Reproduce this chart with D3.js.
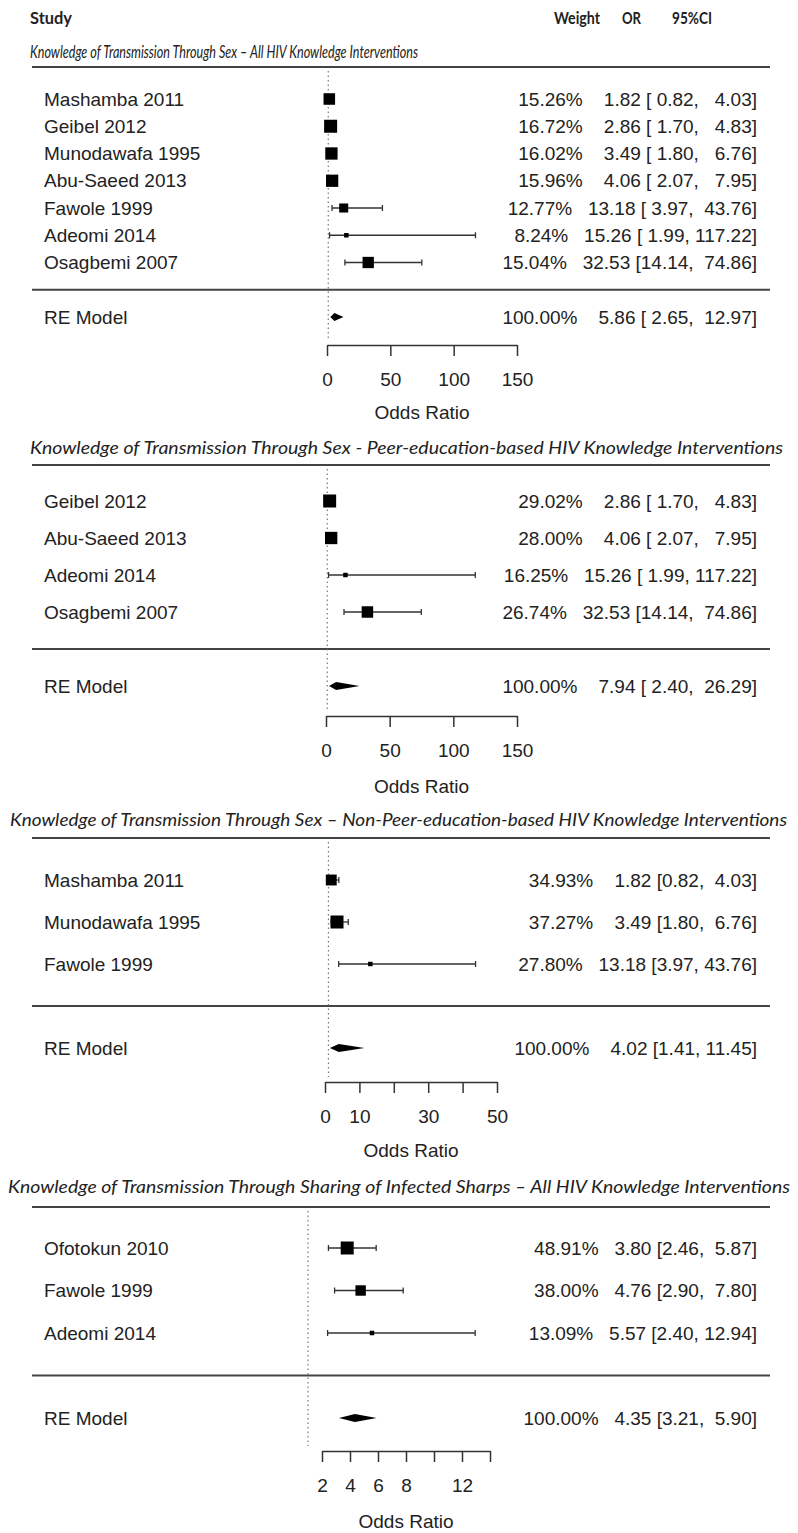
<!DOCTYPE html>
<html>
<head>
<meta charset="utf-8">
<script src="https://cdn.jsdelivr.net/npm/d3@7"></script>
<style>
  body { margin: 0; background: #fff; }
  svg text { font-family: "Liberation Sans", Arial, sans-serif; fill: #222; }
</style>
</head>
<body>
<div id="chart"></div>
<script>
// ---- data ----
var titles = [
  "Knowledge of Transmission Through Sex \u2013 All HIV Knowledge Interventions",
  "Knowledge of Transmission Through Sex - Peer-education-based HIV Knowledge Interventions",
  "Knowledge of Transmission Through Sex \u2013 Non-Peer-education-based HIV Knowledge Interventions",
  "Knowledge of Transmission Through Sharing of Infected Sharps \u2013 All HIV Knowledge Interventions"
];

var sexAllStudies = ["Mashamba 2011", "Geibel 2012", "Munodawafa 1995", "Abu-Saeed 2013", "Fawole 1999", "Adeomi 2014", "Osagbemi 2007"];
var sexAllWeight  = [15.26, 16.72, 16.02, 15.96, 12.77, 8.24, 15.04];
var sexAllOR      = [1.82, 2.86, 3.49, 4.06, 13.18, 15.26, 32.53];
var sexAllLower   = [0.82, 1.70, 1.80, 2.07, 3.97, 1.99, 14.14];
var sexAllUpper   = [4.03, 4.83, 6.76, 7.95, 43.76, 117.22, 74.86];
var sexAllRE      = [5.86, 2.65, 12.97];

var peerStudies = ["Geibel 2012", "Abu-Saeed 2013", "Adeomi 2014", "Osagbemi 2007"];
var peerWeight  = [29.02, 28.00, 16.25, 26.74];
var peerOR      = [2.86, 4.06, 15.26, 32.53];
var peerLower   = [1.70, 2.07, 1.99, 14.14];
var peerUpper   = [4.83, 7.95, 117.22, 74.86];
var peerRE      = [7.94, 2.40, 26.29];

var nonPeerStudies = ["Mashamba 2011", "Munodawafa 1995", "Fawole 1999"];
var nonPeerWeight  = [34.93, 37.27, 27.80];
var nonPeerOR      = [1.82, 3.49, 13.18];
var nonPeerLower   = [0.82, 1.80, 3.97];
var nonPeerUpper   = [4.03, 6.76, 43.76];
var nonPeerRE      = [4.02, 1.41, 11.45];

var sharpsStudies = ["Ofotokun 2010", "Fawole 1999", "Adeomi 2014"];
var sharpsWeight  = [48.91, 38.00, 13.09];
var sharpsOR      = [3.80, 4.76, 5.57];
var sharpsLower   = [2.46, 2.90, 2.40];
var sharpsUpper   = [5.87, 7.80, 12.94];
var sharpsRE      = [4.35, 3.21, 5.90];

var sexAllTicks = [0, 50, 100, 150],  sexAllTickLabels = [0, 50, 100, 150];
var peerTicks = [0, 50, 100, 150],    peerTickLabels = [0, 50, 100, 150];
var nonPeerTicks = [0, 10, 20, 30, 40, 50], nonPeerTickLabels = [0, 10, 30, 50];
var sharpsTicks = [2, 4, 6, 8, 10, 12, 14], sharpsTickLabels = [2, 4, 6, 8, 12];

// ---- layout (pixels) ----
var width = 798, height = 1533;
var lineLeft = 32, lineRight = 770, studyX = 44, annotX = 757;

var panels = [
  { studies: sexAllStudies, w: sexAllWeight, or: sexAllOR, lb: sexAllLower, ub: sexAllUpper, re: sexAllRE,
    ticks: sexAllTicks, labels: sexAllTickLabels, domain: [0, 150], range: [327, 517],
    titleY: 52, titleX: 30, titleLen: 388, lineY: 67, firstY: 99, reY: 317, axisY: 345, xlabY: 412 },
  { studies: peerStudies, w: peerWeight, or: peerOR, lb: peerLower, ub: peerUpper, re: peerRE,
    ticks: peerTicks, labels: peerTickLabels, domain: [0, 150], range: [326, 517],
    titleY: 448, titleX: 30, titleLen: 753, lineY: 465, firstY: 501, reY: 686, axisY: 716, xlabY: 786 },
  { studies: nonPeerStudies, w: nonPeerWeight, or: nonPeerOR, lb: nonPeerLower, ub: nonPeerUpper, re: nonPeerRE,
    ticks: nonPeerTicks, labels: nonPeerTickLabels, domain: [0, 50], range: [325, 497],
    titleY: 820, titleX: 10, titleLen: 777, lineY: 838, firstY: 880, reY: 1048, axisY: 1082, xlabY: 1150 },
  { studies: sharpsStudies, w: sharpsWeight, or: sharpsOR, lb: sharpsLower, ub: sharpsUpper, re: sharpsRE,
    ticks: sharpsTicks, labels: sharpsTickLabels, domain: [2, 14], range: [322, 490],
    titleY: 1187, titleX: 8, titleLen: 782, lineY: 1207, firstY: 1248, reY: 1418, axisY: 1451, xlabY: 1521 }
];

var svg = d3.select("#chart").append("svg")
  .attr("width", width)
  .attr("height", height);

// column headers
var header = svg.append("g")
  .style("font-weight", "bold");
[["Study", 30, 42], ["Weight", 554, 46], ["OR", 622, 19], ["95%CI", 672, 40]].forEach(function(h) {
  header.append("text")
    .attr("x", h[1]).attr("y", 18).attr("dy", "0.35em")
    .attr("textLength", h[2])
    .attr("lengthAdjust", "spacingAndGlyphs")
    .style("font-family", "Lato, 'Open Sans', sans-serif")
    .style("font-size", "17px")
    .text(h[0]);
});

function pad(s, n) { while (s.length < n) s = " " + s; return s; }

panels.forEach(function(p, pi) {
  var g = svg.append("g");
  var n = p.studies.length;

  var x = d3.scaleLinear().domain(p.domain).range(p.range);
  // rows 0..n-1 are studies, n is the separator, n+1 the RE model
  var y = d3.scaleLinear().domain([0, n + 1]).range([p.firstY, p.reY]);
  var size = d3.scaleLinear().domain(d3.extent(p.w)).range([4.5, 13]);

  // title
  g.append("text")
    .attr("x", p.titleX).attr("y", p.titleY).attr("dy", "0.35em")
    .attr("textLength", p.titleLen)
    .attr("lengthAdjust", "spacingAndGlyphs")
    .style("font-family", "Lato, 'Open Sans', sans-serif")
    .style("font-style", "italic")
    .style("font-size", "17px")
    .text(titles[pi]);

  // horizontal rules
  [p.lineY, y(n)].forEach(function(ly) {
    g.append("line")
      .attr("x1", lineLeft).attr("x2", lineRight)
      .attr("y1", ly).attr("y2", ly)
      .attr("stroke", "#444").attr("stroke-width", 2);
  });

  // reference line at OR = 1
  g.append("line")
    .attr("x1", x(1)).attr("x2", x(1))
    .attr("y1", p.lineY + 4).attr("y2", p.axisY - 5)
    .attr("stroke", "#777").attr("stroke-width", 1.2)
    .attr("stroke-dasharray", "1.5,3");

  var rows = p.studies.map(function(s, i) {
    return { name: s, w: p.w[i], or: p.or[i], lb: p.lb[i], ub: p.ub[i], i: i };
  });

  // CI lines and caps
  var ci = g.selectAll(".ci").data(rows).enter().append("g")
    .attr("stroke", "#333").attr("stroke-width", 1.3);
  ci.append("line")
    .attr("x1", function(d) { return x(d.lb); })
    .attr("x2", function(d) { return x(d.ub); })
    .attr("y1", function(d) { return y(d.i); })
    .attr("y2", function(d) { return y(d.i); });
  ci.append("line")
    .attr("x1", function(d) { return x(d.lb); })
    .attr("x2", function(d) { return x(d.lb); })
    .attr("y1", function(d) { return y(d.i) - 3; })
    .attr("y2", function(d) { return y(d.i) + 3; });
  ci.append("line")
    .attr("x1", function(d) { return x(d.ub); })
    .attr("x2", function(d) { return x(d.ub); })
    .attr("y1", function(d) { return y(d.i) - 3; })
    .attr("y2", function(d) { return y(d.i) + 3; });

  // squares sized by weight
  g.selectAll(".sq").data(rows).enter().append("rect")
    .attr("x", function(d) { return x(d.or) - size(d.w) / 2; })
    .attr("y", function(d) { return y(d.i) - size(d.w) / 2; })
    .attr("width", function(d) { return size(d.w); })
    .attr("height", function(d) { return size(d.w); })
    .attr("fill", "#000");

  // RE model diamond
  var ry = y(n + 1), h = 4;
  g.append("polygon")
    .attr("points", [[x(p.re[1]), ry], [x(p.re[0]), ry - h], [x(p.re[2]), ry], [x(p.re[0]), ry + h]]
      .map(function(pt) { return pt.join(","); }).join(" "))
    .attr("fill", "#000");

  // study labels
  g.selectAll(".lab").data(rows).enter().append("text")
    .attr("x", studyX).attr("y", function(d) { return y(d.i); })
    .attr("dy", "0.35em")
    .style("font-size", "19px")
    .text(function(d) { return d.name; });
  g.append("text")
    .attr("x", studyX).attr("y", ry).attr("dy", "0.35em")
    .style("font-size", "19px")
    .text("RE Model");

  // annotations: weight, OR [lower, upper]
  var all = rows.concat([{ w: 100, or: p.re[0], lb: p.re[1], ub: p.re[2], i: n + 1 }]);
  var f = function(v) { return v.toFixed(2); };
  var wMax = d3.max(all, function(d) { return (f(d.w) + "%").length; });
  var eMax = d3.max(all, function(d) { return f(d.or).length; });
  var lMax = d3.max(all, function(d) { return f(d.lb).length; });
  var uMax = d3.max(all, function(d) { return f(d.ub).length; });
  g.selectAll(".ann").data(all).enter().append("text")
    .attr("x", annotX).attr("y", function(d) { return y(d.i); })
    .attr("dy", "0.35em")
    .attr("text-anchor", "end")
    .attr("xml:space", "preserve")
    .style("white-space", "pre")
    .style("font-size", "19px")
    .text(function(d) {
      return pad(f(d.w) + "%", wMax) + "   " + pad(f(d.or), eMax) + " [" +
        pad(f(d.lb), lMax) + ", " + pad(f(d.ub), uMax) + "]";
    });

  // x axis
  var axis = g.append("g")
    .attr("transform", "translate(0," + p.axisY + ")")
    .call(d3.axisBottom(x)
      .tickValues(p.ticks)
      .tickSize(11)
      .tickSizeOuter(0)
      .tickPadding(17)
      .tickFormat(function(d) { return p.labels.indexOf(d) >= 0 ? d : ""; }));
  axis.select(".domain").attr("stroke", "#333").attr("stroke-width", 1.5);
  axis.selectAll(".tick line").attr("stroke", "#333").attr("stroke-width", 1.5);
  axis.selectAll(".tick text")
    .attr("fill", "#222")
    .style("font-family", "'Liberation Sans', Arial, sans-serif")
    .style("font-size", "19px");

  g.append("text")
    .attr("x", (p.range[0] + p.range[1]) / 2).attr("y", p.xlabY)
    .attr("dy", "0.35em")
    .attr("text-anchor", "middle")
    .style("font-size", "19px")
    .text("Odds Ratio");
});
</script>
</body>
</html>
